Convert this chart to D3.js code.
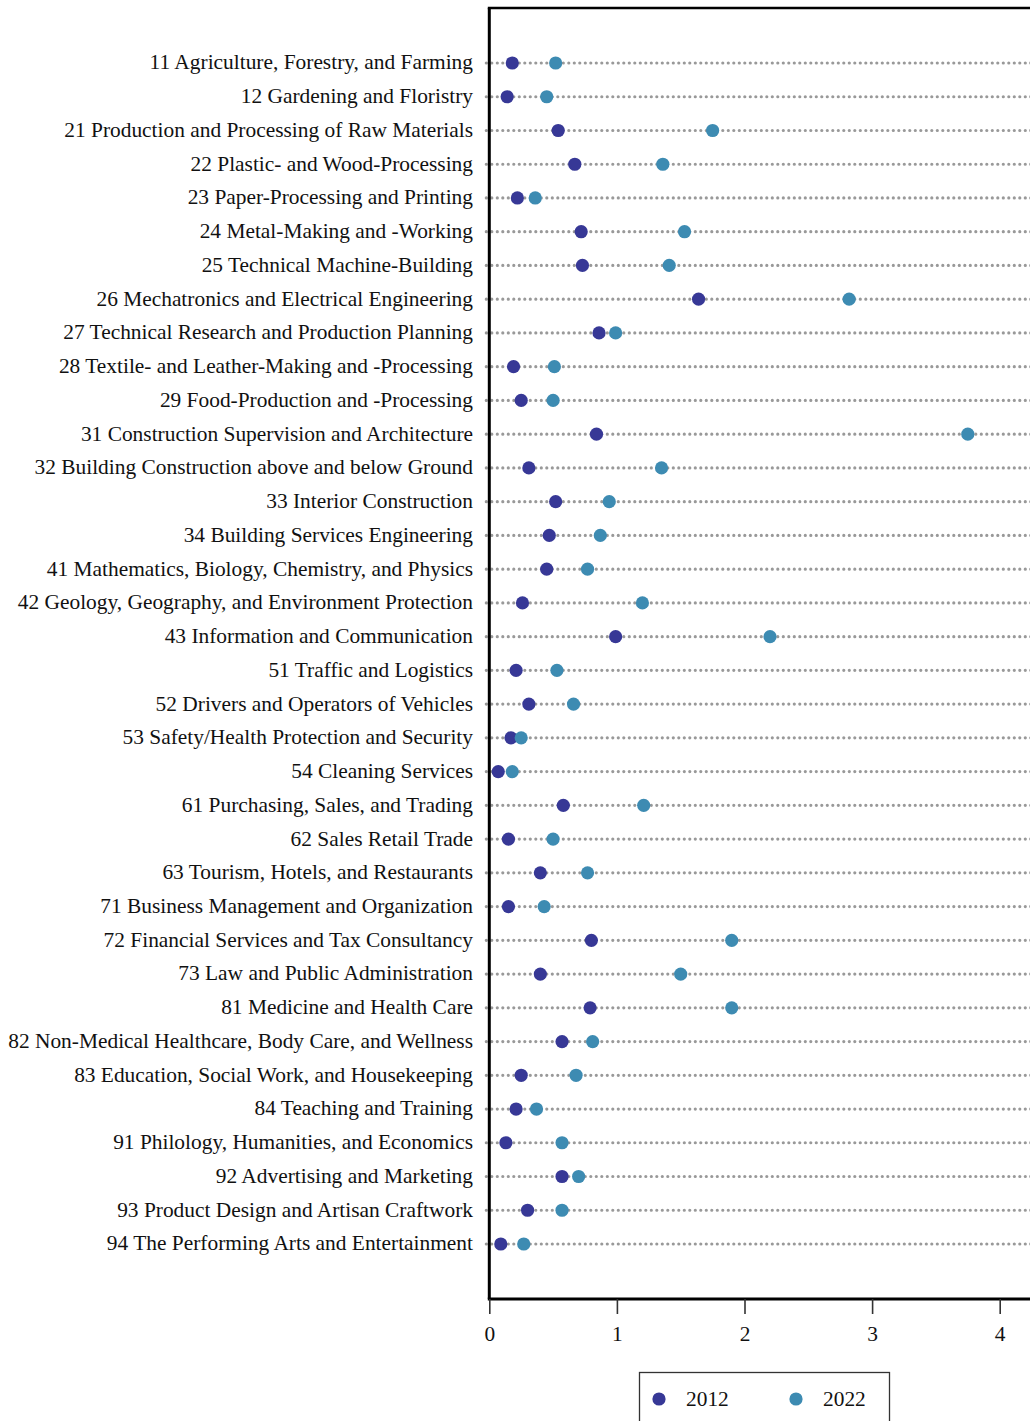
<!DOCTYPE html>
<html>
<head>
<meta charset="utf-8">
<script src="https://cdn.jsdelivr.net/npm/d3@7"></script>
<style>
    body { margin: 0; background: #fff; }
    svg { display: block; }
</style>
</head>
<body>
<svg id="chart"></svg>
<script>
// Occupational fields (KldB codes)
const categories = [
    '11 Agriculture, Forestry, and Farming',
    '12 Gardening and Floristry',
    '21 Production and Processing of Raw Materials',
    '22 Plastic- and Wood-Processing',
    '23 Paper-Processing and Printing',
    '24 Metal-Making and -Working',
    '25 Technical Machine-Building',
    '26 Mechatronics and Electrical Engineering',
    '27 Technical Research and Production Planning',
    '28 Textile- and Leather-Making and -Processing',
    '29 Food-Production and -Processing',
    '31 Construction Supervision and Architecture',
    '32 Building Construction above and below Ground',
    '33 Interior Construction',
    '34 Building Services Engineering',
    '41 Mathematics, Biology, Chemistry, and Physics',
    '42 Geology, Geography, and Environment Protection',
    '43 Information and Communication',
    '51 Traffic and Logistics',
    '52 Drivers and Operators of Vehicles',
    '53 Safety/Health Protection and Security',
    '54 Cleaning Services',
    '61 Purchasing, Sales, and Trading',
    '62 Sales Retail Trade',
    '63 Tourism, Hotels, and Restaurants',
    '71 Business Management and Organization',
    '72 Financial Services and Tax Consultancy',
    '73 Law and Public Administration',
    '81 Medicine and Health Care',
    '82 Non-Medical Healthcare, Body Care, and Wellness',
    '83 Education, Social Work, and Housekeeping',
    '84 Teaching and Training',
    '91 Philology, Humanities, and Economics',
    '92 Advertising and Marketing',
    '93 Product Design and Artisan Craftwork',
    '94 The Performing Arts and Entertainment'
];

const values2012 = [
    0.18, 0.14, 0.54, 0.67, 0.22, 0.72, 0.73, 1.64, 0.86, 0.19, 0.25, 0.84,
    0.31, 0.52, 0.47, 0.45, 0.26, 0.99, 0.21, 0.31, 0.17, 0.07, 0.58, 0.15,
    0.40, 0.15, 0.80, 0.40, 0.79, 0.57, 0.25, 0.21, 0.13, 0.57, 0.30, 0.09
];

const values2022 = [
    0.52, 0.45, 1.75, 1.36, 0.36, 1.53, 1.41, 2.82, 0.99, 0.51, 0.50, 3.75,
    1.35, 0.94, 0.87, 0.77, 1.20, 2.20, 0.53, 0.66, 0.25, 0.18, 1.21, 0.50,
    0.77, 0.43, 1.90, 1.50, 1.90, 0.81, 0.68, 0.37, 0.57, 0.70, 0.57, 0.27
];

const xTicks = [0, 1, 2, 3, 4];
const seriesNames = ['2012', '2022'];
const seriesColors = ['#373896', '#3d8bb2'];

(function () {
    const width = 1030, height = 1421;
    const plotLeft = 489.3, plotTop = 8, plotBottom = 1299;
    const fontSize = '21.4px';
    const serif = "'Liberation Serif', 'Times New Roman', serif";

    const svg = d3.select('#chart').attr('width', width).attr('height', height);

    const x = d3.scaleLinear().domain([0, 4.5]).range([plotLeft, plotLeft + 4.5 * 127.6]);
    const y = d3.scalePoint().domain(categories).range([plotTop, plotBottom]).padding(1.63);

    // Dotted guide lines
    svg.append('g')
        .selectAll('line')
        .data(categories)
        .join('line')
        .attr('x1', plotLeft - 3)
        .attr('x2', width + 10)
        .attr('y1', d => y(d))
        .attr('y2', d => y(d))
        .attr('stroke', '#999')
        .attr('stroke-width', 3.2)
        .attr('stroke-linecap', 'round')
        .attr('stroke-dasharray', '0 5.5');

    // Category labels
    svg.append('g')
        .selectAll('text')
        .data(categories)
        .join('text')
        .attr('x', 473)
        .attr('y', d => y(d))
        .attr('dy', '0.3em')
        .attr('text-anchor', 'end')
        .style('font-family', serif)
        .style('font-size', fontSize)
        .attr('fill', '#111')
        .text(d => d);

    // Points
    [values2012, values2022].forEach((vals, s) => {
        svg.append('g')
            .selectAll('circle')
            .data(vals)
            .join('circle')
            .attr('cx', d => x(d))
            .attr('cy', (d, i) => y(categories[i]))
            .attr('r', 6.6)
            .attr('fill', seriesColors[s]);
    });

    // Frame: left and top lines
    svg.append('line')
        .attr('x1', plotLeft).attr('x2', plotLeft)
        .attr('y1', plotTop).attr('y2', plotBottom)
        .attr('stroke', '#000').attr('stroke-width', 3);
    svg.append('line')
        .attr('x1', plotLeft - 1.5).attr('x2', width + 10)
        .attr('y1', plotTop).attr('y2', plotTop)
        .attr('stroke', '#000').attr('stroke-width', 2.6);

    // Bottom axis
    const xAxis = svg.append('g')
        .attr('transform', `translate(0,${plotBottom})`)
        .call(d3.axisBottom(x).tickValues(xTicks).tickFormat(d3.format('d')).tickSize(15).tickPadding(12));
    xAxis.select('.domain')
        .attr('d', `M${plotLeft - 1.5},0H${width + 10}`)
        .attr('stroke', '#000')
        .attr('stroke-width', 3);
    xAxis.selectAll('.tick line').attr('stroke', '#333').attr('stroke-width', 1.6);
    xAxis.selectAll('.tick text')
        .style('font-family', serif)
        .style('font-size', fontSize)
        .attr('fill', '#111');

    // Legend
    const legend = svg.append('g');
    legend.append('rect')
        .attr('x', 639.5).attr('y', 1372.5)
        .attr('width', 250).attr('height', 70)
        .attr('fill', '#fff')
        .attr('stroke', '#333')
        .attr('stroke-width', 1.3);
    seriesNames.forEach((name, i) => {
        const lx = 659 + i * 137;
        legend.append('circle')
            .attr('cx', lx).attr('cy', 1399)
            .attr('r', 6.6)
            .attr('fill', seriesColors[i]);
        legend.append('text')
            .attr('x', lx + 27).attr('y', 1399)
            .attr('dy', '0.35em')
            .style('font-family', serif)
            .style('font-size', fontSize)
            .attr('fill', '#111')
            .text(name);
    });
})();
</script>
</body>
</html>
